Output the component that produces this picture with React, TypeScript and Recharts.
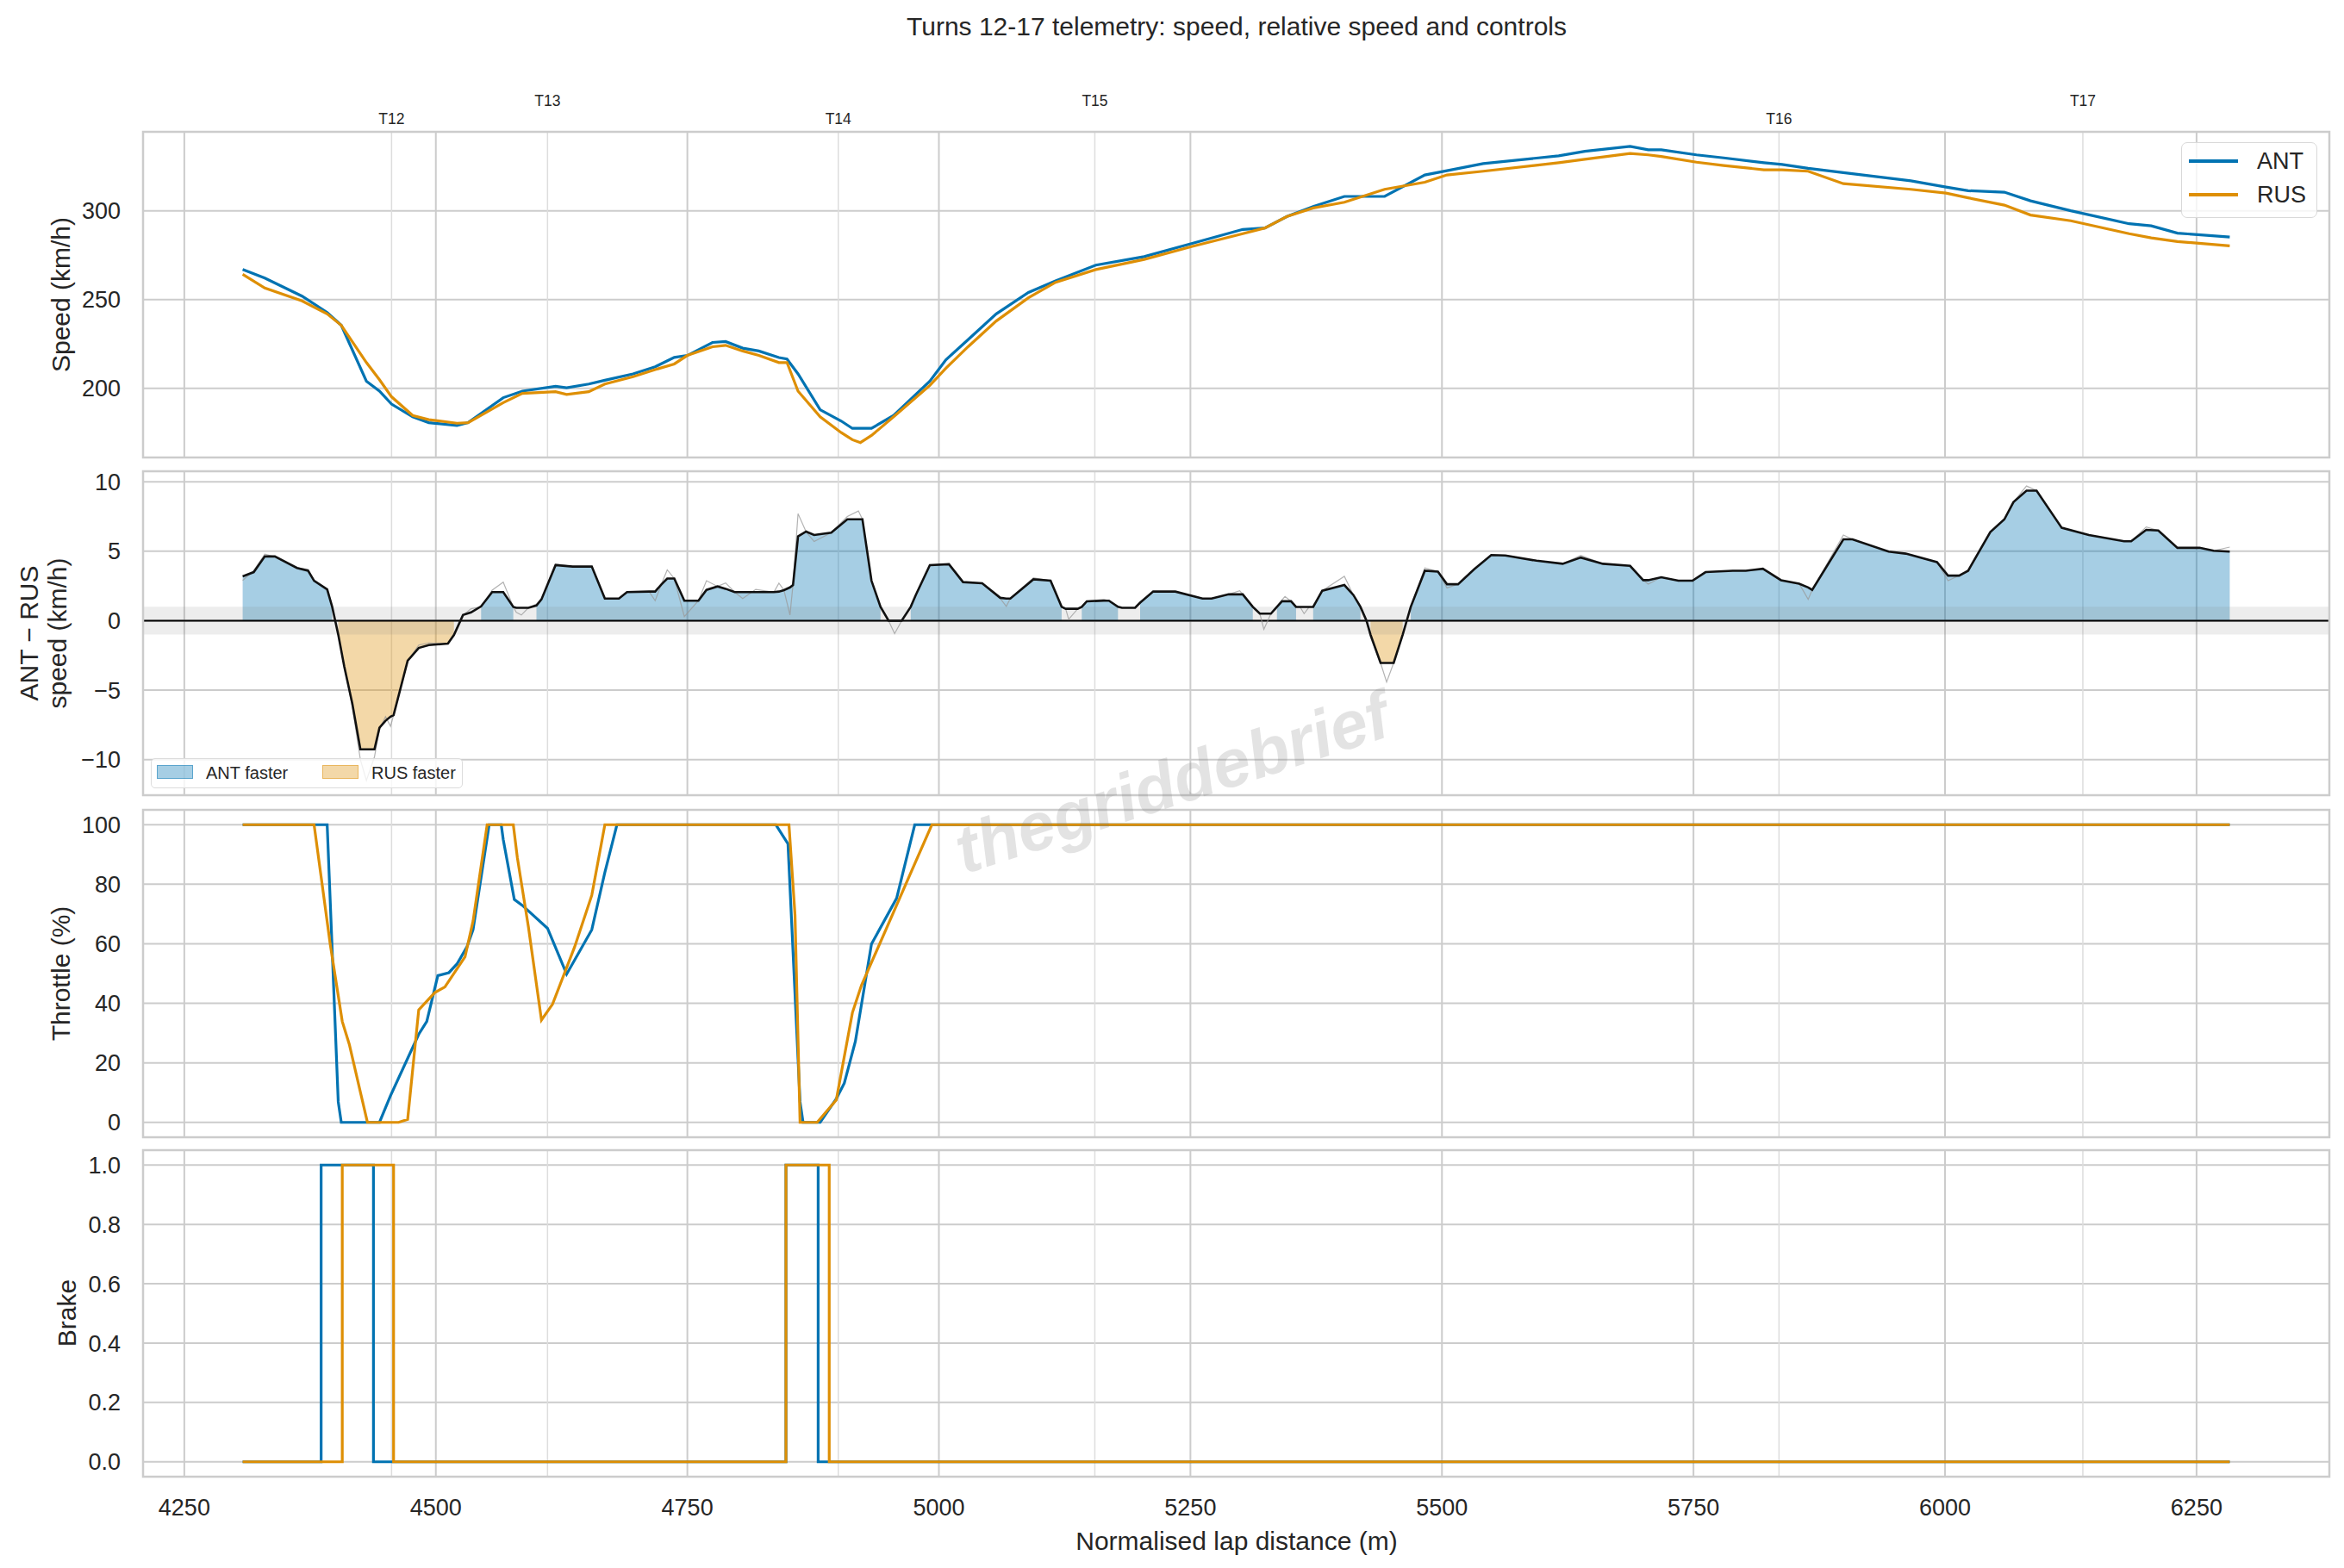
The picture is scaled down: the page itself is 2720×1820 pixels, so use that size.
import React from "react";
import {
  Area,
  CartesianGrid,
  ComposedChart,
  Legend,
  Line,
  ReferenceArea,
  ReferenceLine,
  XAxis,
  YAxis,
} from "recharts";

const FONT = '"Liberation Sans", Arial, Helvetica, sans-serif';
const INK = "#262626";
const ANT_COLOR = "#0173b2";
const RUS_COLOR = "#de8f05";
const GRID = "#cccccc";

// x axis
const X_DOMAIN: [number, number] = [4209, 6382];
const xTicks = [4250, 4500, 4750, 5000, 5250, 5500, 5750, 6000, 6250];
const turnNames = ["T12", "T13", "T14", "T15", "T16", "T17"];
const turnDist = [4456, 4611, 4900, 5155, 5835, 6137];

// speed panel
const speedDist = [
  4308, 4330, 4367, 4392, 4406, 4431, 4444, 4456, 4477, 4493,
  4521, 4532, 4567, 4586, 4619, 4630, 4652, 4668, 4696, 4718,
  4737, 4750, 4775, 4788, 4805, 4821, 4841, 4849, 4860, 4882,
  4903, 4914, 4922, 4933, 4955, 4991, 5007, 5029, 5057, 5089,
  5116, 5156, 5204, 5251, 5302, 5324, 5346, 5372, 5403, 5443,
  5483, 5505, 5541, 5616, 5642, 5687, 5705, 5718, 5753, 5780,
  5820, 5838, 5864, 5899, 5966, 6001, 6023, 6059, 6085, 6125,
  6183, 6205, 6231, 6283,
];
const antSpeed = [
  266.9, 262.1, 251.9, 242.7, 235.5, 204.0, 198.4, 191.1, 183.9, 180.6,
  179.0, 180.6, 194.7, 198.4, 201.1, 200.3, 202.4, 204.5, 208.1, 212.1,
  217.4, 218.5, 225.8, 226.3, 222.6, 221.0, 217.3, 216.5, 208.1, 187.9,
  181.5, 177.4, 177.4, 177.4, 184.7, 204.0, 216.1, 227.4, 241.9, 254.0,
  260.5, 269.4, 274.2, 281.5, 289.5, 290.3, 296.8, 302.4, 308.1, 308.1,
  320.2, 322.6, 326.6, 331.0, 333.5, 336.3, 334.4, 334.4, 331.5, 329.8,
  327.1, 326.1, 323.9, 321.5, 316.9, 313.4, 311.3, 310.5, 305.6, 300.0,
  292.7, 291.5, 287.4, 285.2,
];
const rusSpeed = [
  264.2, 256.5, 249.2, 241.9, 235.5, 214.5, 204.8, 195.2, 184.7, 182.3,
  180.3, 180.6, 191.9, 197.1, 198.1, 196.5, 198.1, 202.4, 206.5, 210.5,
  213.7, 218.5, 223.4, 224.2, 221.0, 218.5, 214.5, 214.5, 198.4, 183.9,
  175.0, 171.0, 169.4, 173.4, 183.9, 201.6, 211.3, 223.4, 237.9, 251.0,
  259.7, 266.9, 272.6, 279.8, 287.1, 290.3, 296.8, 301.6, 304.8, 312.1,
  316.1, 320.2, 322.3, 327.1, 329.0, 332.3, 331.5, 330.6, 327.4, 325.5,
  323.1, 323.1, 322.3, 315.3, 312.1, 310.0, 307.3, 303.2, 297.6, 294.4,
  287.1, 284.7, 282.7, 280.2,
];
const speedTicks = [200, 250, 300];

// ANT - RUS panel
const deltaDist = [
  4308, 4319, 4330, 4340, 4362, 4373, 4379, 4392, 4397, 4400,
  4403, 4409, 4417, 4425, 4431, 4439, 4444, 4450, 4455, 4458,
  4472, 4483, 4493, 4512, 4518, 4527, 4535, 4545, 4556, 4567,
  4577, 4580, 4585, 4592, 4600, 4605, 4619, 4636, 4655, 4668,
  4682, 4690, 4712, 4718, 4724, 4730, 4737, 4747, 4761, 4769,
  4780, 4788, 4797, 4805, 4818, 4836, 4841, 4846, 4852, 4855,
  4860, 4868, 4876, 4893, 4909, 4920, 4924, 4933, 4942, 4950,
  4956, 4963, 4972, 4977, 4991, 5010, 5024, 5043, 5061, 5067,
  5071, 5094, 5111, 5122, 5126, 5129, 5138, 5142, 5147, 5164,
  5169, 5178, 5182, 5195, 5200, 5213, 5235, 5262, 5271, 5288,
  5299, 5302, 5312, 5319, 5323, 5330, 5336, 5341, 5344, 5350,
  5355, 5359, 5363, 5368, 5372, 5381, 5403, 5412, 5419, 5425,
  5429, 5439, 5445, 5452, 5461, 5465, 5469, 5483, 5496, 5505,
  5516, 5532, 5549, 5563, 5594, 5620, 5638, 5660, 5687, 5700,
  5705, 5718, 5735, 5749, 5762, 5789, 5802, 5819, 5837, 5855,
  5864, 5868, 5899, 5908, 5944, 5961, 5992, 6003, 6014, 6023,
  6045, 6059, 6068, 6081, 6091, 6116, 6143, 6178, 6185, 6200,
  6212, 6231, 6253, 6267, 6283,
];
const deltaSmooth = [
  3.19, 3.5, 4.63, 4.63, 3.8, 3.6, 2.88, 2.26, 1.0, 0,
  -1.0, -3.3, -5.97, -9.26, -9.26, -9.26, -7.7, -7.2, -6.9, -6.8,
  -2.88, -1.96, -1.75, -1.65, -1.03, 0.41, 0.6, 1.03, 2.06, 2.06,
  1.0, 0.93, 0.93, 0.93, 1.1, 1.54, 4.0, 3.9, 3.9, 1.6,
  1.6, 2.06, 2.1, 2.1, 2.6, 3.04, 3.04, 1.44, 1.44, 2.22,
  2.47, 2.3, 2.06, 2.06, 2.06, 2.06, 2.1, 2.2, 2.4, 2.57,
  6.07, 6.42, 6.17, 6.34, 7.3, 7.3, 7.3, 2.88, 1.0, 0,
  0, 0, 1.0, 1.85, 4.0, 4.07, 2.78, 2.7, 1.65, 1.6,
  1.6, 2.98, 2.88, 1.0, 0.86, 0.86, 0.86, 1.0, 1.4, 1.44,
  1.44, 1.0, 0.93, 0.93, 1.3, 2.1, 2.1, 1.6, 1.6, 1.9,
  1.9, 1.9, 1.0, 0.51, 0.51, 0.51, 1.0, 1.4, 1.4, 1.4,
  1.0, 0.99, 0.99, 0.99, 1.0, 2.16, 2.57, 1.85, 1.0, 0,
  -1.0, -3.04, -3.04, -3.04, -1.0, 0, 1.0, 3.6, 3.54, 2.63,
  2.63, 3.7, 4.73, 4.7, 4.32, 4.1, 4.55, 4.1, 3.95, 2.92,
  2.92, 3.13, 2.88, 2.88, 3.5, 3.6, 3.6, 3.74, 2.92, 2.67,
  2.4, 2.22, 5.86, 5.86, 4.98, 4.83, 4.22, 3.25, 3.25, 3.6,
  6.38, 7.3, 8.54, 9.36, 9.36, 6.69, 6.17, 5.72, 5.72, 6.54,
  6.5, 5.25, 5.25, 5.04, 4.98,
];
const deltaRaw = [
  2.9, 3.6, 4.8, 4.6, 3.8, 3.7, 2.9, 2.3, 1.0, 0,
  -1.0, -3.3, -6.2, -10.0, -11.5, -9.8, -7.8, -6.9, -7.6, -6.8,
  -2.9, -1.75, -1.6, -1.65, -1.0, 0.4, 0.86, 1.0, 2.2, 2.78,
  1.0, 0.6, 0.41, 0.93, 1.2, 1.5, 4.1, 3.9, 3.9, 1.6,
  1.6, 2.06, 2.1, 1.44, 2.6, 3.66, 3.04, 0.3, 1.44, 2.88,
  2.47, 2.72, 2.06, 1.6, 2.26, 2.06, 2.7, 2.2, 0.41, 2.6,
  7.7, 6.4, 5.7, 6.34, 7.5, 7.9, 7.3, 2.9, 1.0, 0,
  -0.93, 0, 1.0, 1.85, 4.0, 4.1, 2.78, 2.7, 1.6, 1.03,
  1.6, 3.09, 2.88, 1.0, 0.86, 0.1, 0.86, 1.0, 1.4, 1.54,
  1.44, 1.0, 0.93, 0.93, 1.3, 2.1, 2.1, 1.6, 1.6, 1.9,
  2.16, 1.9, 1.0, 0.51, -0.62, 0.51, 1.0, 1.5, 1.75, 1.4,
  1.0, 0.99, 0.51, 0.99, 1.0, 2.16, 3.2, 1.85, 1.0, 0,
  -1.2, -3.04, -4.42, -3.04, -1.0, 0, 1.0, 3.8, 3.54, 2.36,
  2.63, 3.7, 4.73, 4.7, 4.32, 4.1, 4.7, 4.1, 3.95, 2.92,
  2.63, 3.13, 2.88, 2.88, 3.5, 3.6, 3.6, 3.74, 2.92, 2.67,
  1.54, 2.22, 6.17, 5.86, 4.98, 4.83, 4.22, 2.88, 3.25, 3.6,
  6.38, 7.3, 8.54, 9.7, 9.36, 6.69, 6.17, 5.72, 5.72, 6.75,
  6.5, 5.25, 5.25, 5.04, 5.3,
];
const deltaTicks = [-10, -5, 0, 5, 10];
const BAND = 1; // +-1 km/h "level" band

// throttle panel
const antThrottleDist = [
  4308, 4392, 4403, 4406, 4444, 4455, 4483, 4491, 4502, 4513,
  4521, 4531, 4537, 4553, 4565, 4567, 4578, 4586, 4611, 4630,
  4655, 4668, 4680, 4838, 4850, 4862, 4865, 4882, 4898, 4906,
  4917, 4933, 4958, 4976, 6283,
];
const antThrottle = [
  100, 100, 6.9, 0, 0, 9, 29.6, 33.9, 49.3, 50.3,
  53.2, 59, 64.7, 100, 100, 95, 74.9, 72.9, 65.2, 49.8,
  64.7, 84, 100, 100, 93.6, 6.9, 0, 0, 7.9, 13.2,
  27.2, 59.9, 75.3, 100, 100,
];
const rusThrottleDist = [
  4308, 4379, 4395, 4407, 4414, 4432, 4463, 4472, 4483, 4499,
  4509, 4529, 4537, 4551, 4577, 4581, 4592, 4605, 4616, 4638,
  4655, 4668, 4851, 4857, 4862, 4879, 4898, 4914, 4923, 4993,
  6283,
];
const rusThrottle = [
  100, 100, 59.9, 33.9, 26.2, 0, 0, 1, 37.8, 43.6,
  45.5, 55.6, 67.6, 100, 100, 89, 65.7, 34.4, 39.7, 59,
  76.3, 100, 100, 69.6, 0, 0, 7.5, 36.8, 46, 100,
  100,
];
const throttleTicks = [0, 20, 40, 60, 80, 100];

// brake panel (on/off)
const antBrakeDist = [4308, 4386, 4438, 4848, 4880, 6283];
const antBrake = [0, 1, 0, 1, 0, 0];
const rusBrakeDist = [4308, 4407, 4458, 4848, 4891, 6283];
const rusBrake = [0, 1, 0, 1, 0, 0];
const brakeTicks = [0, 0.2, 0.4, 0.6, 0.8, 1.0];

const zip = (xs: number[], ys: number[]) => xs.map((d, i) => ({ d, v: ys[i] }));

const speedAntData = zip(speedDist, antSpeed);
const speedRusData = zip(speedDist, rusSpeed);
const deltaData = deltaDist.map((d, i) => {
  const sm = deltaSmooth[i];
  return {
    d,
    sm,
    raw: deltaRaw[i],
    pos: sm >= BAND ? sm : null,
    neg: sm <= -BAND ? sm : null,
  };
});
const throttleAntData = zip(antThrottleDist, antThrottle);
const throttleRusData = zip(rusThrottleDist, rusThrottle);
const brakeAntData = zip(antBrakeDist, antBrake);
const brakeRusData = zip(rusBrakeDist, rusBrake);

// layout (px, page coordinates)
const PAGE_W = 2720;
const PAGE_H = 1820;
const PLOT_LEFT = 166;
const PLOT_RIGHT = 2703;
const Y_AXIS_W = 100;
const PANELS = [
  { top: 153, bottom: 531 },
  { top: 547, bottom: 923 },
  { top: 940, bottom: 1320 },
  { top: 1335, bottom: 1714 },
];
const PAD = 20; // room above panels 2-4 so the top tick label is not clipped
const X_AXIS_H = 95;

const tickStyle = { fill: INK, fontSize: 27, fontFamily: FONT };
const minus = (v: number) => (v < 0 ? `\u2212${Math.abs(v)}` : `${v}`);

// ticks that draw nothing, so the grid still gets its vertical lines
function EmptyTick() {
  return <g />;
}

function TurnTick(props: any) {
  const { x, payload, index } = props;
  let i = typeof index === "number" ? index : -1;
  if (i < 0 || i >= turnNames.length) {
    let best = 0;
    turnDist.forEach((t, k) => {
      if (Math.abs(t - payload.value) < Math.abs(turnDist[best] - payload.value)) best = k;
    });
    i = best;
  }
  return (
    <text
      x={x}
      y={i % 2 === 0 ? 138 : 117}
      textAnchor="middle"
      dominantBaseline="central"
      fontSize={17.5}
      fontFamily={FONT}
      fill={INK}
    >
      {turnNames[i]}
    </text>
  );
}

// axes + grid shared by all four panels
function frame(
  yDomain: [number, number],
  yTicks: number[],
  fmt: (v: number) => string,
  showTurns: boolean,
  showX: boolean,
) {
  return [
    <CartesianGrid key="grid" stroke={GRID} strokeWidth={2} />,
    <CartesianGrid
      key="turnGrid"
      xAxisId="turns"
      horizontal={false}
      stroke="#dddddd"
      strokeWidth={1.5}
    />,
    <XAxis
      key="x"
      type="number"
      dataKey="d"
      domain={X_DOMAIN}
      ticks={xTicks}
      interval={0}
      allowDataOverflow
      height={showX ? X_AXIS_H : 0}
      axisLine={false}
      tickLine={false}
      tickSize={0}
      tickMargin={26}
      tick={showX ? tickStyle : <EmptyTick />}
    />,
    <XAxis
      key="xt"
      xAxisId="turns"
      orientation="top"
      type="number"
      dataKey="d"
      domain={X_DOMAIN}
      ticks={turnDist}
      interval={0}
      allowDataOverflow
      height={showTurns ? 1 : 0}
      axisLine={false}
      tickLine={false}
      tickSize={0}
      tick={showTurns ? <TurnTick /> : <EmptyTick />}
    />,
    <YAxis
      key="y"
      type="number"
      domain={yDomain}
      ticks={yTicks}
      interval={0}
      allowDataOverflow
      width={Y_AXIS_W}
      axisLine={false}
      tickLine={false}
      tickSize={0}
      tickMargin={26}
      tick={tickStyle}
      tickFormatter={fmt}
    />,
  ];
}

function SpeedLegend() {
  const rows = [
    { name: "ANT", color: ANT_COLOR, y: 21 },
    { name: "RUS", color: RUS_COLOR, y: 60 },
  ];
  return (
    <div
      style={{
        position: "relative",
        boxSizing: "border-box",
        width: 158,
        height: 88,
        border: "1.5px solid #d9d9d9",
        borderRadius: 7,
        background: "rgba(255,255,255,0.8)",
      }}
    >
      {rows.map((r) => (
        <React.Fragment key={r.name}>
          <div
            style={{
              position: "absolute",
              left: 8,
              top: r.y - 1.7,
              width: 57,
              height: 3.4,
              background: r.color,
            }}
          />
          <div
            style={{
              position: "absolute",
              left: 87,
              top: r.y - 16,
              height: 32,
              lineHeight: "32px",
              fontSize: 27,
              fontFamily: FONT,
              color: INK,
              whiteSpace: "nowrap",
            }}
          >
            {r.name}
          </div>
        </React.Fragment>
      ))}
    </div>
  );
}

function DeltaLegend() {
  const items = [
    { name: "ANT faster", color: "1,115,178", x: 6 },
    { name: "RUS faster", color: "222,143,5", x: 198 },
  ];
  return (
    <div
      style={{
        position: "relative",
        boxSizing: "border-box",
        width: 362,
        height: 35,
        border: "1.5px solid #dcdcdc",
        borderRadius: 5,
        background: "rgba(255,255,255,0.8)",
      }}
    >
      {items.map((it) => (
        <React.Fragment key={it.name}>
          <div
            style={{
              position: "absolute",
              left: it.x,
              top: 7,
              width: 42,
              height: 16,
              boxSizing: "border-box",
              background: `rgba(${it.color},0.35)`,
              border: `1px solid rgba(${it.color},0.45)`,
            }}
          />
          <div
            style={{
              position: "absolute",
              left: it.x + 57,
              top: 3,
              height: 26,
              lineHeight: "26px",
              fontSize: 20,
              fontFamily: FONT,
              color: INK,
              whiteSpace: "nowrap",
            }}
          >
            {it.name}
          </div>
        </React.Fragment>
      ))}
    </div>
  );
}

const chartMargin = (top: number) => ({
  top,
  right: PAGE_W - PLOT_RIGHT,
  bottom: 0,
  left: PLOT_LEFT - Y_AXIS_W,
});

export default function App() {
  const [p1, p2, p3, p4] = PANELS;
  return (
    <div
      style={{
        position: "absolute",
        left: 0,
        top: 0,
        width: PAGE_W,
        height: PAGE_H,
        background: "#ffffff",
        overflow: "hidden",
      }}
    >
      {/* speed (1px top axis carries the turn labels) */}
      <div style={{ position: "absolute", left: 0, top: 0 }}>
        <ComposedChart width={PAGE_W} height={p1.bottom} margin={chartMargin(p1.top - 1)}>
          {frame([161, 344.5], speedTicks, (v) => `${v}`, true, false)}
          <Line
            data={speedAntData}
            dataKey="v"
            name="ANT"
            type="linear"
            stroke={ANT_COLOR}
            strokeWidth={3.2}
            dot={false}
            activeDot={false}
            isAnimationActive={false}
          />
          <Line
            data={speedRusData}
            dataKey="v"
            name="RUS"
            type="linear"
            stroke={RUS_COLOR}
            strokeWidth={3.2}
            dot={false}
            activeDot={false}
            isAnimationActive={false}
          />
          <Legend
            layout="horizontal"
            verticalAlign="middle"
            align="center"
            wrapperStyle={{ position: "absolute", left: 2531, top: 165, width: 158, height: 88 }}
            content={() => <SpeedLegend />}
          />
        </ComposedChart>
      </div>

      {/* ANT - RUS */}
      <div style={{ position: "absolute", left: 0, top: p2.top - PAD }}>
        <ComposedChart
          width={PAGE_W}
          height={p2.bottom - p2.top + PAD}
          margin={chartMargin(PAD)}
        >
          {frame([-12.56, 10.76], deltaTicks, minus, false, false)}
          <Area
            data={deltaData}
            dataKey="pos"
            type="linear"
            baseValue={0}
            stroke="none"
            fill={ANT_COLOR}
            fillOpacity={0.35}
            connectNulls={false}
            dot={false}
            activeDot={false}
            isAnimationActive={false}
          />
          <Area
            data={deltaData}
            dataKey="neg"
            type="linear"
            baseValue={0}
            stroke="none"
            fill={RUS_COLOR}
            fillOpacity={0.35}
            connectNulls={false}
            dot={false}
            activeDot={false}
            isAnimationActive={false}
          />
          <ReferenceArea y1={-BAND} y2={BAND} fill="#808080" fillOpacity={0.14} stroke="none" />
          <ReferenceLine y={0} stroke="#000000" strokeWidth={2} />
          <Line
            data={deltaData}
            dataKey="raw"
            type="linear"
            stroke="#9a9a9a"
            strokeOpacity={0.75}
            strokeWidth={1.2}
            dot={false}
            activeDot={false}
            isAnimationActive={false}
          />
          <Line
            data={deltaData}
            dataKey="sm"
            type="linear"
            stroke="#111111"
            strokeWidth={2.6}
            dot={false}
            activeDot={false}
            isAnimationActive={false}
          />
          <Legend
            layout="horizontal"
            verticalAlign="middle"
            align="center"
            wrapperStyle={{
              position: "absolute",
              left: 175,
              top: 333 + PAD,
              width: 362,
              height: 35,
            }}
            content={() => <DeltaLegend />}
          />
        </ComposedChart>
      </div>

      {/* throttle */}
      <div style={{ position: "absolute", left: 0, top: p3.top - PAD }}>
        <ComposedChart
          width={PAGE_W}
          height={p3.bottom - p3.top + PAD}
          margin={chartMargin(PAD)}
        >
          {frame([-5, 105], throttleTicks, (v) => `${v}`, false, false)}
          <Line
            data={throttleAntData}
            dataKey="v"
            type="linear"
            stroke={ANT_COLOR}
            strokeWidth={3.2}
            dot={false}
            activeDot={false}
            isAnimationActive={false}
          />
          <Line
            data={throttleRusData}
            dataKey="v"
            type="linear"
            stroke={RUS_COLOR}
            strokeWidth={3.2}
            dot={false}
            activeDot={false}
            isAnimationActive={false}
          />
        </ComposedChart>
      </div>

      {/* brake */}
      <div style={{ position: "absolute", left: 0, top: p4.top - PAD }}>
        <ComposedChart
          width={PAGE_W}
          height={p4.bottom - p4.top + PAD + X_AXIS_H}
          margin={chartMargin(PAD)}
        >
          {frame([-0.05, 1.05], brakeTicks, (v) => v.toFixed(1), false, true)}
          <Line
            data={brakeAntData}
            dataKey="v"
            type="stepAfter"
            stroke={ANT_COLOR}
            strokeWidth={3.2}
            dot={false}
            activeDot={false}
            isAnimationActive={false}
          />
          <Line
            data={brakeRusData}
            dataKey="v"
            type="stepAfter"
            stroke={RUS_COLOR}
            strokeWidth={3.2}
            dot={false}
            activeDot={false}
            isAnimationActive={false}
          />
        </ComposedChart>
      </div>

      {/* frame, titles and labels */}
      <svg
        width={PAGE_W}
        height={PAGE_H}
        style={{ position: "absolute", left: 0, top: 0, pointerEvents: "none" }}
        fontFamily={FONT}
      >
        {PANELS.map((p) => (
          <rect
            key={p.top}
            x={PLOT_LEFT}
            y={p.top}
            width={PLOT_RIGHT - PLOT_LEFT}
            height={p.bottom - p.top}
            fill="none"
            stroke={GRID}
            strokeWidth={2.5}
          />
        ))}
        <text x={1435} y={30} textAnchor="middle" dominantBaseline="central" fontSize={30} fill={INK}>
          Turns 12-17 telemetry: speed, relative speed and controls
        </text>
        <text x={1435} y={1788} textAnchor="middle" dominantBaseline="central" fontSize={30} fill={INK}>
          Normalised lap distance (m)
        </text>
        <text
          transform="translate(70 342) rotate(-90)"
          textAnchor="middle"
          dominantBaseline="central"
          fontSize={30}
          fill={INK}
        >
          Speed (km/h)
        </text>
        <text
          transform="translate(33 735) rotate(-90)"
          textAnchor="middle"
          dominantBaseline="central"
          fontSize={30}
          fill={INK}
        >
          ANT − RUS
        </text>
        <text
          transform="translate(66 735) rotate(-90)"
          textAnchor="middle"
          dominantBaseline="central"
          fontSize={30}
          fill={INK}
        >
          speed (km/h)
        </text>
        <text
          transform="translate(70 1130) rotate(-90)"
          textAnchor="middle"
          dominantBaseline="central"
          fontSize={30}
          fill={INK}
        >
          Throttle (%)
        </text>
        <text
          transform="translate(77 1524) rotate(-90)"
          textAnchor="middle"
          dominantBaseline="central"
          fontSize={30}
          fill={INK}
        >
          Brake
        </text>
        <text
          transform="translate(1360 908) rotate(-18)"
          textAnchor="middle"
          dominantBaseline="central"
          fontSize={78}
          fontWeight="bold"
          fontStyle="italic"
          fill="#808080"
          fillOpacity={0.22}
        >
          thegriddebrief
        </text>
      </svg>
    </div>
  );
}
